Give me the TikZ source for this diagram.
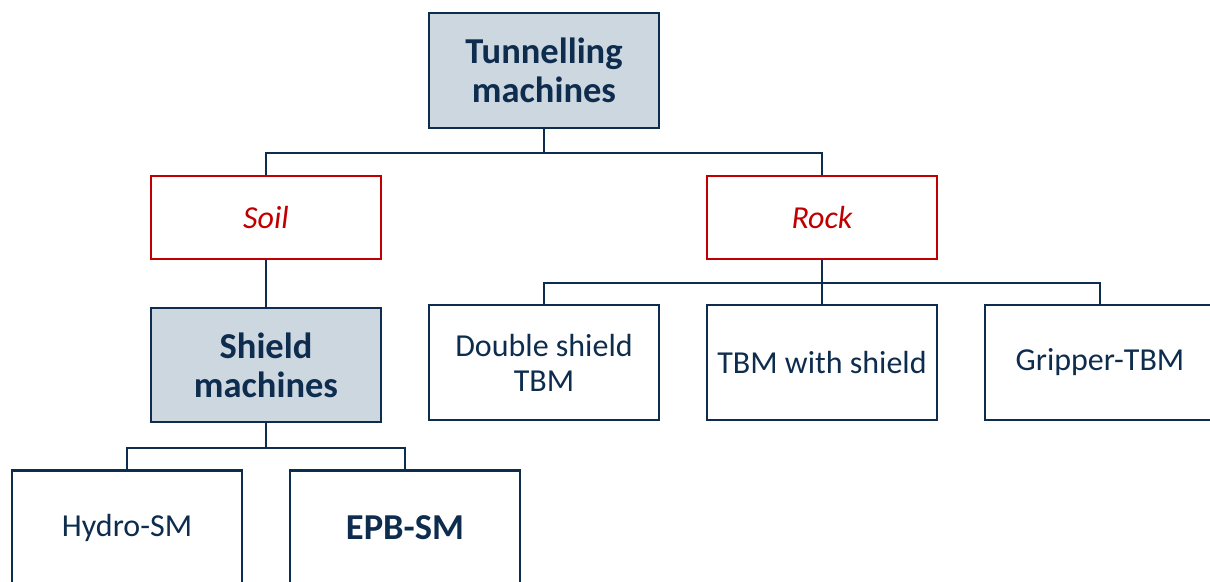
\documentclass[tikz,border=0pt]{standalone}
\usepackage{fontspec}
\setmainfont{Carlito}
\definecolor{navy}{HTML}{0E2D4E}
\definecolor{boxfill}{HTML}{CDD7E0}
\definecolor{soilred}{HTML}{C00000}
\tikzset{
  box/.style={rectangle, draw=navy, line width=2.4pt, minimum width=230pt,
    minimum height=115pt, inner sep=0pt, align=center, text=navy,
    font=\fontsize{32}{35}\selectfont},
  headbox/.style={box, fill=boxfill, font=\fontsize{36.5}{39}\selectfont\bfseries},
  groundbox/.style={box, draw=soilred, minimum height=83pt, text=soilred,
    font=\fontsize{32}{35}\selectfont\itshape},
  link/.style={draw=navy, line width=2.4pt}
}
\begin{document}
\begin{tikzpicture}[x=1pt,y=-1pt]
\useasboundingbox (0,0) rectangle (1210,581);
% top level
\node[headbox] (tm) at (544,70.5) {Tunnelling\\machines};
% ground type
\node[groundbox] (soil) at (266,217.5) {Soil};
\node[groundbox] (rock) at (822,217.5) {Rock};
% soil branch
\node[headbox, minimum height=114pt] (shield) at (266,365) {Shield\\machines};
\node[box] (hydro) at (127,528) {Hydro-SM};
\node[box, font=\fontsize{36.5}{39}\selectfont\bfseries] (epb) at (405,528) {EPB-SM};
% rock branch
\node[box] (dstbm) at (544,362.5) {Double shield\\TBM};
\node[box] (tbmws) at (822,362.5) {TBM with shield};
\node[box] (grip) at (1100,362.5) {Gripper-TBM};
% connectors
\draw[link] (tm.south) -- ++(0,24) -| (soil.north);
\draw[link] (tm.south) -- ++(0,24) -| (rock.north);
\draw[link] (soil.south) -- (shield.north);
\draw[link] (shield.south) -- ++(0,25) -| (hydro.north);
\draw[link] (shield.south) -- ++(0,25) -| (epb.north);
\draw[link] (rock.south) -- ++(0,23) -| (dstbm.north);
\draw[link] (rock.south) -- (tbmws.north);
\draw[link] (rock.south) -- ++(0,23) -| (grip.north);
\end{tikzpicture}
\end{document}
